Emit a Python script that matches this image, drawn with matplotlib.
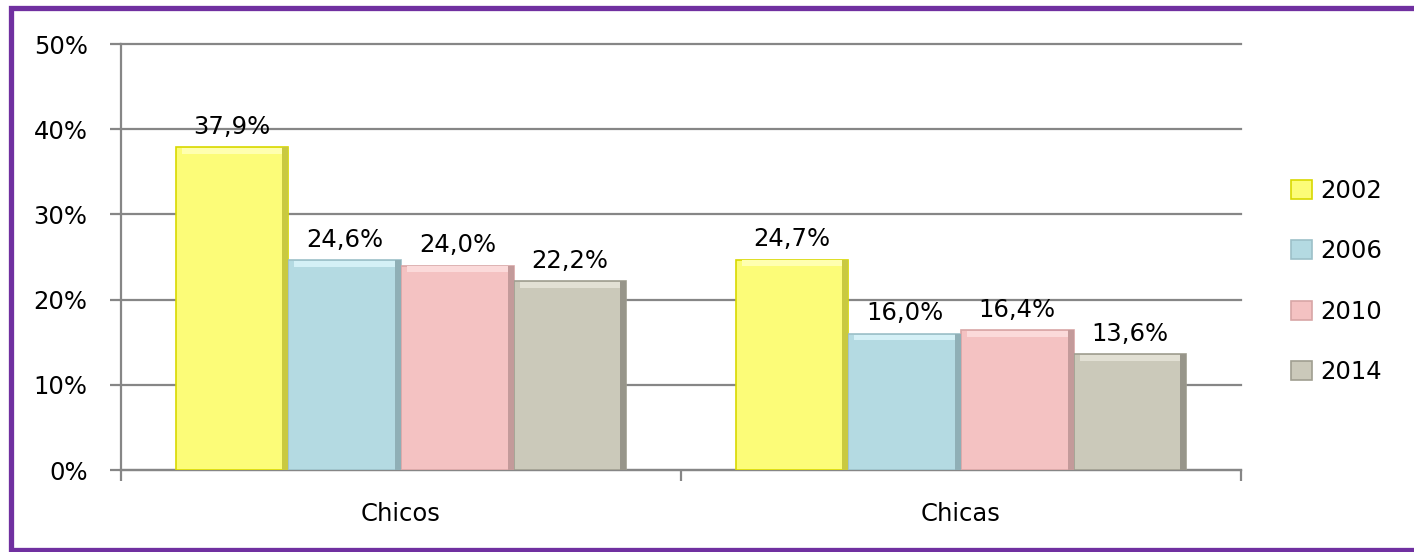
import matplotlib
matplotlib.use("Agg")
import matplotlib.pyplot as plt
import numpy as np
from matplotlib.lines import Line2D

categories = ["Chicos", "Chicas"]
years = ["2002", "2006", "2010", "2014"]
v2002 = [37.9, 24.7]
v2006 = [24.6, 16.0]
v2010 = [24.0, 16.4]
v2014 = [22.2, 13.6]
series = [v2002, v2006, v2010, v2014]
labels = [["37,9%", "24,7%"], ["24,6%", "16,0%"], ["24,0%", "16,4%"], ["22,2%", "13,6%"]]
yticks = [0, 10, 20, 30, 40, 50]
ytick_labels = ["0%", "10%", "20%", "30%", "40%", "50%"]

faces = ["#FCFC78", "#B4DAE2", "#F4C2C2", "#CBC9BA"]
edges = ["#D8D800", "#9CC0C8", "#D8A6A6", "#A09E90"]
shades = ["#C9C940", "#8FAFB6", "#C39A9A", "#97958A"]
lights = ["#FFFFB0", "#D4F0F6", "#FBDADA", "#E2E0D4"]

plt.rcParams['font.family'] = ['DejaVu Sans']
fig = plt.figure(figsize=(14.14, 5.52), dpi=100)
ax = fig.add_axes([121/1414, 1-470/552, (1241-121)/1414, (470-44)/552])

x = np.arange(len(categories))
w = 0.2013
sw = 0.011
for i, vals in enumerate(series):
    pos = x + (i - 1.5) * w
    vals = np.array(vals)
    bars = ax.bar(pos, vals, width=w, color=faces[i], edgecolor=edges[i], linewidth=1.2,
                  label=years[i], zorder=3)
    # bevel: light top strip and dark right strip
    ax.bar(pos, np.full_like(vals, 0.7), bottom=vals - 0.8, width=w - 2*sw,
           color=lights[i], linewidth=0, zorder=4)
    ax.bar(pos + w/2 - sw/2, vals, width=sw, color=shades[i], linewidth=0, zorder=4)
    for b, lab in zip(bars, labels[i]):
        ax.annotate(lab, (b.get_x() + b.get_width()/2, b.get_height()),
                    xytext=(0, 6), textcoords="offset points",
                    ha="center", va="bottom", fontsize=17.5, color="black", zorder=5)

ax.set_xlim(-0.5, 1.5)
ax.set_ylim(0, 50)
ax.set_yticks(yticks)
ax.set_yticklabels(ytick_labels, fontsize=17.5)
ax.yaxis.grid(True, color="#868686", linewidth=1.6, zorder=0)
for gl in ax.get_ygridlines():
    gl.set_clip_on(False)
ax.set_axisbelow(True)

ax.set_xticks([-0.5, 0.5, 1.5])
ax.set_xticklabels([])
ax.set_xticks(x, minor=True)
ax.set_xticklabels(categories, minor=True, fontsize=17.5)
ax.tick_params(axis="x", which="minor", length=0, pad=23)
ax.tick_params(axis="x", which="major", length=8, width=1.6, color="#868686", direction="out")
ax.tick_params(axis="y", length=8, width=1.6, color="#868686", direction="out", pad=16)

for s in ["top", "right"]:
    ax.spines[s].set_visible(False)
for s in ["left", "bottom"]:
    ax.spines[s].set_color("#868686")
    ax.spines[s].set_linewidth(1.6)

handles, hl = ax.get_legend_handles_labels()
leg = ax.legend(handles, hl, loc="upper left", bbox_to_anchor=(1.025, 0.735), frameon=False,
                fontsize=17.5, handlelength=0.85, handleheight=0.85, labelspacing=1.5,
                handletextpad=0.35)

# purple border
fig.add_artist(Line2D([1.01, 11/1414, 11/1414, 1.01],
                      [1-8/552, 1-8/552, 1-550/552, 1-550/552],
                      transform=fig.transFigure, color="#7030A0", linewidth=3.8,
                      solid_joinstyle="miter"))

fig.savefig("out.png", dpi=100, facecolor="white")
